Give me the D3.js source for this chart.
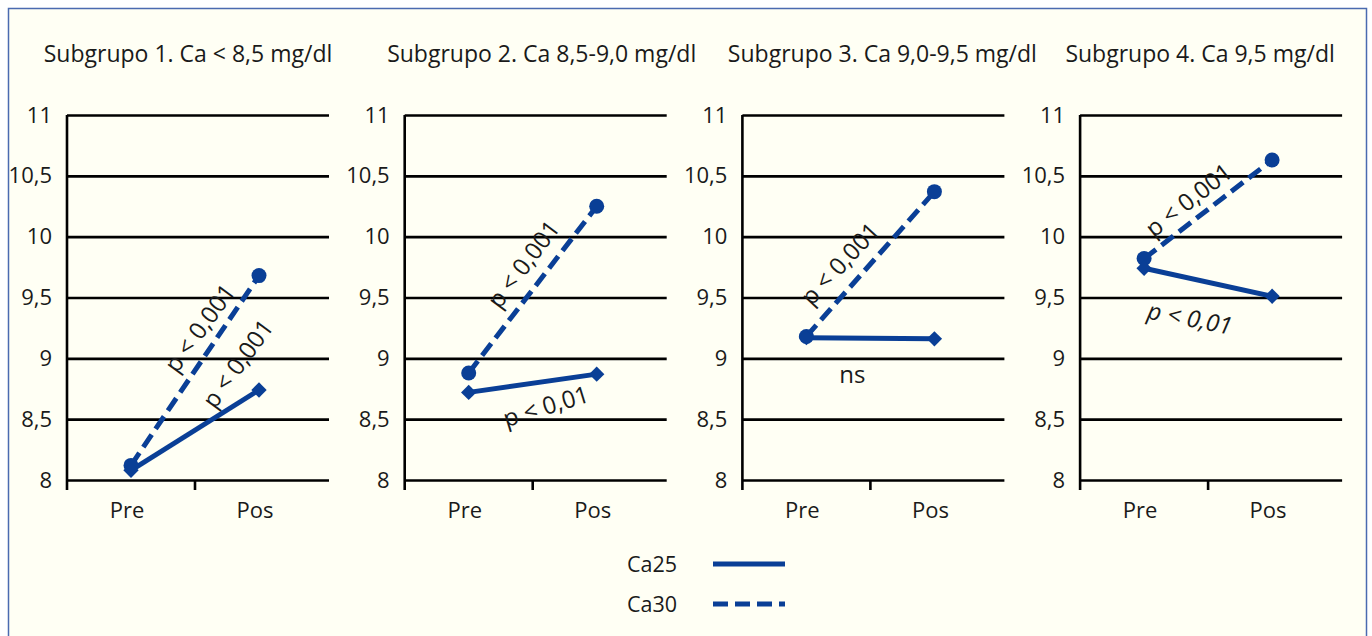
<!DOCTYPE html>
<html>
<head>
<meta charset="utf-8">
<script src="https://cdn.jsdelivr.net/npm/d3@7"></script>
<style>
  body { margin: 0; background: #fff; }
  text { font-family: "Open Sans", sans-serif; fill: #1a1a1a; }
</style>
</head>
<body>
<svg id="chart" width="1372" height="636"></svg>
<script>
// data
var categories = ["Pre", "Pos"];
var titles = ["Subgrupo 1. Ca < 8,5 mg/dl", "Subgrupo 2. Ca 8,5-9,0 mg/dl", "Subgrupo 3. Ca 9,0-9,5 mg/dl", "Subgrupo 4. Ca 9,5 mg/dl"];
var ca25 = [[8.08, 8.74], [8.72, 8.87], [9.17, 9.16], [9.74, 9.51]];
var ca30 = [[8.12, 9.68], [8.88, 10.25], [9.18, 10.37], [9.82, 10.63]];
var ca25Labels = ["p < 0,001", "p < 0,01", "ns", "p < 0,01"];
var ca30Labels = ["p < 0,001", "p < 0,001", "p < 0,001", "p < 0,001"];
var yTicks = [8, 8.5, 9, 9.5, 10, 10.5, 11];

var blue = "#0a3f96";
var dash = "15,7";
var svg = d3.select("#chart");

svg.append("rect")
  .attr("x", 8.5).attr("y", 8.5)
  .attr("width", 1358).attr("height", 660)
  .attr("fill", "#fffff4")
  .attr("stroke", "#4a6ab0")
  .attr("stroke-width", 1.5);

// label placement relative to line midpoint: dx, dy, angle
var ca30Pos = [[4, -43, -54], [-10, -26, -53], [-31, -1, -47], [-20, -10, -38]];
var ca25Pos = [[42, -67, -54], [13, 22, -17], [-18, 35, 0], [-18, 35, 11]];
var titleShift = [121, 137, 140, 120];

var y = d3.scaleLinear().domain([8, 11]).range([480, 115]);
var gridW = 262;

titles.forEach(function(t, i) {
  var ax = 67 + i * 337.7;
  var g = svg.append("g").attr("transform", "translate(" + ax + ",0)");
  var x = d3.scaleBand().domain(categories).range([0, 256]);

  svg.append("text")
    .attr("x", ax + titleShift[i]).attr("y", 62)
    .attr("text-anchor", "middle")
    .style("font-size", "23px")
    .text(t);

  var yAxis = g.append("g")
    .call(d3.axisLeft(y).tickValues(yTicks).tickSize(12)
      .tickFormat(function(d) { return String(d).replace(".", ","); }));
  yAxis.select(".domain").remove();
  yAxis.selectAll(".tick line")
    .attr("x2", gridW)
    .attr("stroke", "#000").attr("stroke-width", 2.6);
  yAxis.selectAll(".tick text")
    .attr("x", -15)
    .style("font-size", "22px")
    .style("font-family", "Open Sans")
    .attr("fill", "#1a1a1a");

  // vertical axis line
  g.append("line")
    .attr("x1", 0).attr("x2", 0)
    .attr("y1", y(11)).attr("y2", y(8) + 10)
    .attr("stroke", "#000").attr("stroke-width", 2.6);
  g.append("line")
    .attr("x1", x("Pos")).attr("x2", x("Pos"))
    .attr("y1", y(8)).attr("y2", y(8) + 10)
    .attr("stroke", "#000").attr("stroke-width", 2.6);

  g.selectAll(".cat")
    .data(categories)
    .enter().append("text")
    .attr("x", function(d) { return x(d) + x.bandwidth() / 2 - 4; })
    .attr("y", 518)
    .attr("text-anchor", "middle")
    .style("font-size", "22px")
    .text(function(d) { return d; });

  var cx = function(k) { return x(categories[k]) + x.bandwidth() / 2; };

  var line = d3.line()
    .x(function(d, k) { return cx(k); })
    .y(function(d) { return y(d); });

  g.append("path")
    .attr("d", line(ca30[i]))
    .attr("fill", "none").attr("stroke", blue)
    .attr("stroke-width", 5)
    .attr("stroke-dasharray", dash);
  g.append("path")
    .attr("d", line(ca25[i]))
    .attr("fill", "none").attr("stroke", blue)
    .attr("stroke-width", 5);

  g.selectAll(".dot")
    .data(ca30[i])
    .enter().append("circle")
    .attr("cx", function(d, k) { return cx(k); })
    .attr("cy", function(d) { return y(d); })
    .attr("r", 7.5)
    .attr("fill", blue);

  g.selectAll(".dia")
    .data(ca25[i])
    .enter().append("path")
    .attr("d", d3.symbol().type(d3.symbolDiamond2).size(150))
    .attr("transform", function(d, k) { return "translate(" + cx(k) + "," + y(d) + ")"; })
    .attr("fill", blue);

  function addLabel(vals, txt, p, italic) {
    var mx = (cx(0) + cx(1)) / 2 + p[0];
    var my = (y(vals[0]) + y(vals[1])) / 2 + p[1];
    g.append("text")
      .attr("transform", "translate(" + mx + "," + my + ") rotate(" + p[2] + ")")
      .attr("text-anchor", "middle")
      .attr("dominant-baseline", "central")
      .style("font-size", "24px")
      .style("font-style", italic ? "italic" : "normal")
      .text(txt);
  }
  addLabel(ca30[i], ca30Labels[i], ca30Pos[i], false);
  addLabel(ca25[i], ca25Labels[i], ca25Pos[i], i == 3);
});

// legend
var legend = [["Ca25", null, 564], ["Ca30", dash, 604]];
legend.forEach(function(l) {
  svg.append("text")
    .attr("x", 627).attr("y", l[2] + 8)
    .style("font-size", "21.5px")
    .text(l[0]);
  svg.append("line")
    .attr("x1", 713).attr("x2", 785)
    .attr("y1", l[2]).attr("y2", l[2])
    .attr("stroke", blue).attr("stroke-width", 5)
    .attr("stroke-dasharray", l[1]);
});
</script>
</body>
</html>
